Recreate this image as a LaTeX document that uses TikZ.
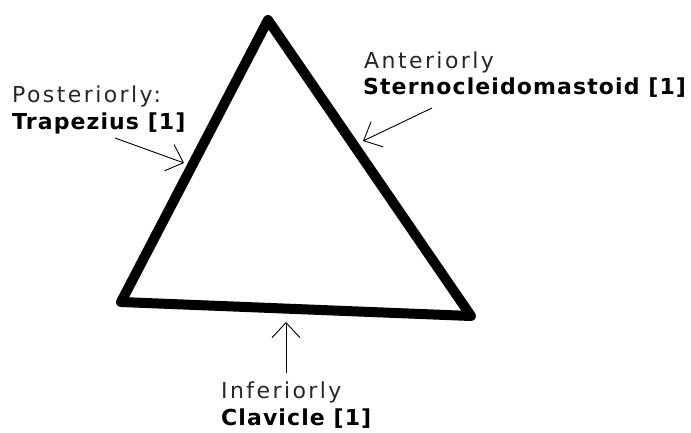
\documentclass[tikz,border=0pt]{standalone}
\usepackage{fontspec}
\setmainfont{DejaVu Sans}[LetterSpace=11, BoldFeatures={LetterSpace=5}]
\usetikzlibrary{arrows.meta}
\tikzset{>={Straight Barb[length=15pt,width=28pt]}}
\tikzset{lbl/.style={anchor=base west, inner sep=0pt, font=\fontsize{22}{26}\selectfont, text=black!85}}
\tikzset{blbl/.style={lbl, font=\fontsize{22}{26}\selectfont\bfseries, text=black}}
\tikzset{pointer/.style={->, line width=0.9pt}}

\begin{document}
\begin{tikzpicture}[x=1pt,y=-1pt]
  \useasboundingbox (0,0) rectangle (691,432);
  % the triangle
  \coordinate (apex) at (268,20);
  \coordinate (lowleft) at (121,302);
  \coordinate (lowright) at (471,316);
  \draw[line width=10pt, line join=round] (apex) -- (lowright) -- (lowleft) -- cycle;
  % labels
  \node[lbl] (post) at (12,102) {Posteriorly:};
  \node[blbl] (trap) at (12,129) {Trapezius [1]};
  \node[lbl] (ant) at (364,68) {Anteriorly};
  \node[blbl] (scm) at (363,94) {Sternocleidomastoid [1]};
  \node[lbl] (inf) at (221,398) {Inferiorly};
  \node[blbl] (clav) at (221,425) {Clavicle [1]};
  % arrows
  \coordinate (trapfrom) at (115,138);
  \coordinate (trapto) at (184,163);
  \coordinate (scmfrom) at (432,108);
  \coordinate (scmto) at (363,141);
  \coordinate (clavfrom) at (286,373);
  \coordinate (clavto) at (286,322);
  \draw[pointer] (trapfrom) -- (trapto);
  \draw[pointer] (scmfrom) -- (scmto);
  \draw[pointer] (clavfrom) -- (clavto);
\end{tikzpicture}
\end{document}
